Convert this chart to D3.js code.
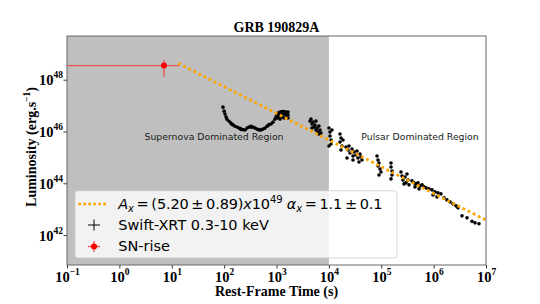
<!DOCTYPE html>
<html><head><meta charset="utf-8">
<script src="https://cdn.jsdelivr.net/npm/d3@7"></script>
<style>body{margin:0;background:#fff}</style>
</head><body><svg id="c" width="540" height="304"></svg>
<script>
// ---- data ----
const xrtTime = [95,100,104,109,113,124,135,148,161,176,192,210,229,250,274,299,326,356,388,424,463,506,552,603,659,719,785,857,936,978,1022,
  140,205,330,480,690,
  1069,1069,1117,1167,1167,1167,1219,1274,1274,1274,1331,1391,1391,1391,1453,1518,1518,1586,1658,1658,1658,
  4365,4560,4765,4978,5200,5433,5676,5930,6195,6472,6761,7063,4765,5676,6472,
  10046,10495,10495,10965,10965,11455,10046,
  16300,17030,16300,17790,17030,18600,
  21240,23180,24220,25300,27620,28890,30170,32960,34440,35970,39270,41030,42860,22190,28890,37580,
  83000,86700,90600,86700,94700,98900,90600,
  153500,153500,160400,160400,153500,
  238400,249000,260200,284000,297000,310000,324000,338700,271800,
  386500,422000,461000,503000,549000,600000,655000,716000,441000,526000,
  817000,931000,1.06e6,1.21e6,1.38e6,973000,1.16e6,
  1.58e6,1.80e6,2.05e6,2.34e6,2.67e6,2.92e6,
  3.48e6,4.34e6,5.40e6,6.17e6,7.35e6];
const xrtLum = [8.7e46,6.1e46,4.7e46,3.6e46,3.0e46,2.5e46,2.1e46,1.8e46,1.6e46,1.5e46,1.35e46,1.2e46,1.18e46,1.14e46,1.35e46,1.48e46,1.6e46,1.48e46,1.35e46,1.24e46,1.14e46,1.14e46,1.24e46,1.35e46,1.6e46,1.86e46,1.95e46,2.3e46,3.0e46,3.6e46,4.3e46,
  1.9e46,1.3e46,1.45e46,1.2e46,1.7e46,
  5.13e46,3.30e46,3.93e46,5.61e46,4.30e46,3.01e46,5.13e46,5.86e46,4.70e46,3.60e46,5.61e46,5.86e46,4.70e46,3.30e46,5.13e46,5.61e46,4.30e46,5.13e46,5.61e46,4.30e46,3.30e46,
  2.52e46,3.01e46,1.94e46,2.31e46,1.48e46,1.77e46,1.14e46,1.36e46,9.5e45,1.62e46,1.14e46,8.7e45,1.36e46,2.52e46,7.96e45,
  1.36e46,9.5e45,6.67e45,4.68e45,3.28e45,1.14e46,2.75e45,
  7.96e45,5.58e45,3.92e45,2.75e45,1.93e45,4.68e45,
  2.52e45,1.93e45,2.75e45,1.48e45,2.11e45,1.13e45,1.62e45,1.24e45,1.77e45,9.5e44,1.35e45,1.04e45,7.94e44,9.5e44,7.94e44,6.65e44,
  1.13e45,7.94e44,6.1e44,4.67e44,3.58e44,2.74e44,2.1e44,
  6.1e44,4.28e44,3.0e44,2.1e44,1.48e44,
  2.74e44,1.92e44,1.35e44,1.76e44,1.04e44,2.30e44,1.35e44,8.7e43,9.5e43,
  1.24e44,1.04e44,9.5e43,1.04e44,7.93e43,8.7e43,7.26e43,6.64e43,7.26e43,6.08e43,
  6.08e43,5.56e43,4.66e43,4.27e43,3.90e43,3.57e43,2.99e43,
  2.74e43,2.29e43,1.92e43,1.61e43,1.35e43,1.13e43,
  5.55e42,4.64e42,3.40e42,2.98e42,2.73e42];
const snTime = [7.1], snTimeLow = [0.01], snTimeHigh = [13.9];
const snLum = [3.5e48], snLumLow = [1.3e48], snLumHigh = [5.7e48];
const fitTime = [13.3, 1e7];
const fitLum = [4.3e48, 3.8e42];
const xTickExps = [-1,0,1,2,3,4,5,6,7];
const yTickExps = [42,44,46,48];
const xDomain = [0.1, 1e7];
const yDomain = [Math.pow(10,40.846), Math.pow(10,49.687)];
const snRegionEnd = 1e4;
const titleText = "GRB 190829A";
const xLabel = "Rest-Frame Time (s)";
const regionLabels = ["Supernova Dominated Region", "Pulsar Dominated Region"];
const legendLabels = ["Swift-XRT 0.3-10 keV", "SN-rise"];

// ---- layout ----
const L = 67, R = 486, T = 36, B = 265;
const svg = d3.select("#c");
const x = d3.scaleLog().domain(xDomain).range([L, R]);
const y = d3.scaleLog().domain(yDomain).range([B, T]);
const serif = "'Liberation Serif','Times New Roman',serif";
const sans = "'DejaVu Sans',sans-serif";

svg.append("defs").append("clipPath").attr("id","clip")
  .append("rect").attr("x",L).attr("y",T).attr("width",R-L).attr("height",B-T);

// shaded SN region
svg.append("rect").attr("x", x(xDomain[0])).attr("y", T)
  .attr("width", x(snRegionEnd) - x(xDomain[0])).attr("height", B - T)
  .attr("fill", "#bfbfbf");

// region labels
svg.append("text").attr("x", 214).attr("y", 139.5).attr("text-anchor","middle")
  .attr("font-family", sans).attr("font-size", 9.3).attr("fill","#1a1a1a").text(regionLabels[0]);
svg.append("text").attr("x", 420).attr("y", 139.5).attr("text-anchor","middle")
  .attr("font-family", sans).attr("font-size", 9.3).attr("fill","#1a1a1a").text(regionLabels[1]);

const plot = svg.append("g").attr("clip-path","url(#clip)");

// XRT points
plot.selectAll("circle.xrt").data(xrtTime.map((t,i)=>[t,xrtLum[i]])).enter()
  .append("circle").attr("class","xrt")
  .attr("cx", d=>x(d[0])).attr("cy", d=>y(d[1])).attr("r", 1.8).attr("fill","#000");

// fit line
plot.append("path").datum(fitTime.map((t,i)=>[t,fitLum[i]]))
  .attr("d", d3.line().x(d=>x(d[0])).y(d=>y(d[1])))
  .attr("fill","none").attr("stroke","#FFA500").attr("stroke-width",2.8)
  .attr("stroke-dasharray","2.8,2.9");

// SN rise
const snCol = "#f05050";
snTime.forEach((t,i)=>{
  plot.append("line").attr("x1",x(snTimeLow[i])).attr("x2",x(snTimeHigh[i]))
    .attr("y1",y(snLum[i])).attr("y2",y(snLum[i])).attr("stroke",snCol).attr("stroke-width",1.3);
  plot.append("line").attr("x1",x(t)).attr("x2",x(t))
    .attr("y1",y(snLumLow[i])).attr("y2",y(snLumHigh[i])).attr("stroke",snCol).attr("stroke-width",1.3);
  plot.append("circle").attr("cx",x(t)).attr("cy",y(snLum[i])).attr("r",3).attr("fill","red");
});

// axes
const xAxis = d3.axisBottom(x).tickValues(xTickExps.map(e=>Math.pow(10,e))).tickSize(3.5).tickFormat(()=> "");
const gx = svg.append("g").attr("transform",`translate(0,${B})`).call(xAxis);
gx.select(".domain").remove();
gx.selectAll(".tick line").attr("stroke","#000").attr("stroke-width",0.8);
gx.selectAll(".tick").each(function(d){
  const e = Math.round(Math.log10(d));
  const t = d3.select(this).append("text").attr("dy",0)
    .attr("font-family",serif).attr("font-weight","bold").attr("font-size",14.5)
    .attr("fill","#000").attr("text-anchor","middle").attr("transform","translate(0,16.5)");
  t.append("tspan").text("10");
  t.append("tspan").attr("font-size",9.5).attr("dy",-7).text(e<0 ? "\u2212"+(-e) : String(e));
});

const yAxis = d3.axisLeft(y).tickValues(yTickExps.map(e=>Math.pow(10,e))).tickSize(3.5).tickFormat(()=> "");
const gy = svg.append("g").attr("transform",`translate(${L},0)`).call(yAxis);
gy.select(".domain").remove();
gy.selectAll(".tick line").attr("stroke","#000").attr("stroke-width",0.8);
gy.selectAll(".tick").each(function(d){
  const e = Math.round(Math.log10(d));
  const t = d3.select(this).append("text").attr("x",-4).attr("dy",0)
    .attr("font-family",serif).attr("font-weight","bold").attr("font-size",14.5)
    .attr("fill","#000").attr("text-anchor","end").attr("transform","translate(0,5)");
  t.append("tspan").text("10");
  t.append("tspan").attr("font-size",9.5).attr("dy",-7).text(String(e));
});

// frame
svg.append("rect").attr("x",L).attr("y",T).attr("width",R-L).attr("height",B-T)
  .attr("fill","none").attr("stroke","#666").attr("stroke-width",1);

// title and labels
svg.append("text").attr("x",(L+R)/2).attr("y",32).attr("text-anchor","middle")
  .attr("font-family",serif).attr("font-weight","bold").attr("font-size",14).text(titleText);
svg.append("text").attr("x",(L+R)/2).attr("y",296).attr("text-anchor","middle")
  .attr("font-family",serif).attr("font-weight","bold").attr("font-size",14).text(xLabel);
const yl = svg.append("text").attr("transform","translate(35.5,147) rotate(-90)").attr("text-anchor","middle")
  .attr("font-family",serif).attr("font-weight","bold").attr("font-size",14);
yl.append("tspan").text("Luminosity (erg.s");
yl.append("tspan").attr("font-size",9.5).attr("dy",-6).text("\u22121");
yl.append("tspan").attr("dy",6).text(")");

// legend
const lg = svg.append("g");
lg.append("rect").attr("x",75).attr("y",190.7).attr("width",322).attr("height",67.3).attr("rx",3)
  .attr("fill","#fff").attr("fill-opacity",0.8).attr("stroke","#cccccc").attr("stroke-width",0.8);
lg.append("line").attr("x1",78.3).attr("x2",108.3).attr("y1",204).attr("y2",204)
  .attr("stroke","#FFA500").attr("stroke-width",2.7).attr("stroke-dasharray","2.7,2.3");
// XRT handle
lg.append("line").attr("x1",88).attr("x2",100).attr("y1",225).attr("y2",225).attr("stroke","#000").attr("stroke-width",1);
lg.append("line").attr("x1",94).attr("x2",94).attr("y1",219.5).attr("y2",230.5).attr("stroke","#000").attr("stroke-width",1);
// SN handle
lg.append("line").attr("x1",88).attr("x2",100).attr("y1",246.5).attr("y2",246.5).attr("stroke",snCol).attr("stroke-width",1.3);
lg.append("line").attr("x1",94).attr("x2",94).attr("y1",241).attr("y2",252).attr("stroke",snCol).attr("stroke-width",1.3);
lg.append("circle").attr("cx",94).attr("cy",246.5).attr("r",3).attr("fill","red");

const lt = lg.append("text").attr("x",118.3).attr("y",209.3).attr("font-family",sans).attr("font-size",14.5).attr("fill","#000");
const thin = "\u2009";
lt.append("tspan").attr("font-style","italic").text("A");
lt.append("tspan").attr("font-style","italic").attr("font-size",10).attr("dy",3).text("x");
lt.append("tspan").attr("dy",-3).text(thin+"="+thin+"(5.20"+thin+"\u00b1"+thin+"0.89)");
lt.append("tspan").attr("font-style","italic").text("x");
lt.append("tspan").text("10");
lt.append("tspan").attr("font-size",10).attr("dy",-6).text("49");
lt.append("tspan").attr("dy",6).text(" ");
lt.append("tspan").attr("font-style","italic").text("\u03b1");
lt.append("tspan").attr("font-style","italic").attr("font-size",10).attr("dy",3).text("x");
lt.append("tspan").attr("dy",-3).text(thin+"="+thin+"1.1"+thin+"\u00b1"+thin+"0.1");
// shrink slightly so the line spans the same width as in the reference
const w = lt.node().getComputedTextLength();
if (w > 264) {
  const n = lt.text().length;
  lt.attr("letter-spacing", ((264 - w) / n).toFixed(3));
}

lg.append("text").attr("x",118.3).attr("y",230.3).attr("font-family",sans).attr("font-size",14.5).text(legendLabels[0]);
lg.append("text").attr("x",118.3).attr("y",251.3).attr("font-family",sans).attr("font-size",14.5).text(legendLabels[1]);
</script></body></html>
